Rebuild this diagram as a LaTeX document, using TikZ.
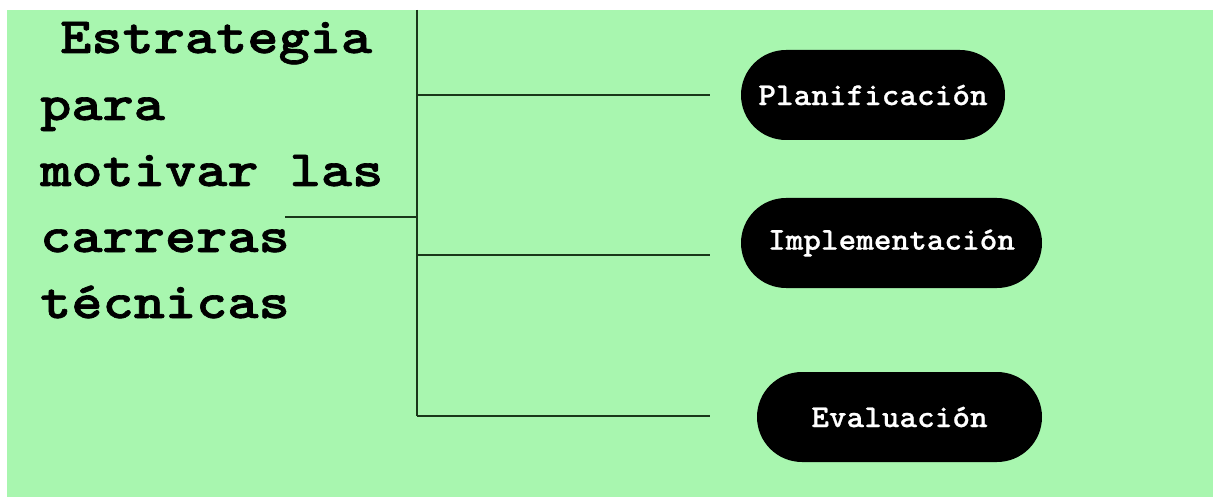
\documentclass[tikz,border=0pt]{standalone}
\usepackage{fontspec}
\newfontfamily\titlefont{lmmonolt10-bold.otf}[FakeStretch=1.165,FakeBold=1.3]
\newfontfamily\pillfont{lmmonolt10-bold.otf}[FakeStretch=1.05,FakeBold=0.6]
\definecolor{bg}{RGB}{168,246,175}
\definecolor{linec}{RGB}{25,55,25}
\begin{document}
\begin{tikzpicture}[x=1pt,y=-1pt,
  titletext/.style={anchor=base west, inner sep=0pt, text=black,
    font=\titlefont\fontsize{51}{66}\selectfont},
  pill/.style={fill=black, text=white, rounded corners=45pt, minimum height=90pt,
    inner sep=0pt, font=\pillfont\fontsize{32}{34}\selectfont},
  conn/.style={draw=linec, line width=2pt}]
\fill[white] (0,0) rectangle (1213,497);
\fill[bg] (7,10) rectangle (1213,497);
\useasboundingbox (0,0) rectangle (1213,497);

% title
\node[titletext] (t1) at (60,53) {Estrategia};
\node[titletext] (t2) at (40,120) {para};
\node[titletext] (t3) at (40,186) {motivar las};
\node[titletext] (t4) at (40,252) {carreras};
\node[titletext] (t5) at (40,318) {técnicas};

% pills
\node[pill, minimum width=264pt] (plan) at (873,95) {Planificación};
\node[pill, minimum width=301pt] (impl) at (891.5,243) {Implementación};
\node[pill, minimum width=285pt] (eval) at (899.5,417) {Evaluación};

% connector points
\coordinate (top) at (416.5,10);
\coordinate (bot) at (416.5,416);
\coordinate (ts) at (285,217);
\coordinate (tj) at (416.5,217);
\coordinate (j1) at (416.5,95);
\coordinate (j2) at (416.5,255);
\coordinate (j3) at (416.5,416);
\coordinate (e1) at (710,95);
\coordinate (e2) at (710,255);
\coordinate (e3) at (710,416);

\draw[conn] (top) -- (bot);
\draw[conn] (ts) -- (tj);
\draw[conn] (j1) -- (e1);
\draw[conn] (j2) -- (e2);
\draw[conn] (j3) -- (e3);
\end{tikzpicture}
\end{document}
